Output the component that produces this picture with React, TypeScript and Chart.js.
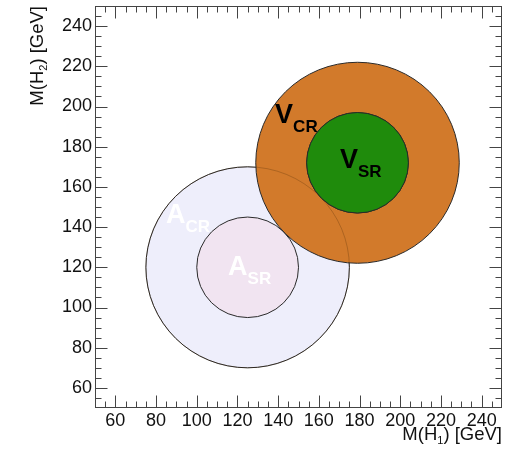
import React, { useEffect, useRef } from "react";
import { Chart, registerables } from "chart.js";

Chart.register(...registerables);

// ---- data ----
const REGION_NAMES = ["A_CR", "A_SR", "V_CR", "V_SR"];
const CENTER_X = [125, 125, 179, 179];
const CENTER_Y = [120, 120, 172, 172];
const RADIUS = [50, 25, 50, 25];
const LABEL_MAIN = ["A", "A", "V", "V"];
const LABEL_SUB = ["CR", "SR", "CR", "SR"];
const AXIS_MIN = 50;
const AXIS_MAX = 250;
const MAJOR_TICKS = [60, 80, 100, 120, 140, 160, 180, 200, 220, 240];
const MINOR_STEP = 5;

// ---- styles ----
const FILLS = ["#eeeefb", "#f1e4f1", "#d27a2b", "#1f8b0c"];
const TEXT_COLORS = ["#ffffff", "#ffffff", "#000000", "#000000"];
// label anchor (data coords) for each region label
const LABEL_POS_X = [84.9, 115.4, 138.5, 170.4];
const LABEL_POS_Y = [141.8, 116.0, 191.9, 169.6];
const FONT = "'Liberation Sans', Arial, Helvetica, sans-serif";

function drawParts(
  ctx: CanvasRenderingContext2D,
  parts: { t: string; font: string; dy: number }[],
  x: number,
  y: number
) {
  let cx = x;
  for (const p of parts) {
    ctx.font = p.font;
    ctx.fillText(p.t, cx, y + p.dy);
    cx += ctx.measureText(p.t).width;
  }
  return cx - x;
}

function measureParts(ctx: CanvasRenderingContext2D, parts: { t: string; font: string; dy: number }[]) {
  let w = 0;
  for (const p of parts) {
    ctx.font = p.font;
    w += ctx.measureText(p.t).width;
  }
  return w;
}

const regionPlugin = {
  id: "regions",
  beforeDatasetsDraw(chart: any) {
    const ctx: CanvasRenderingContext2D = chart.ctx;
    const xs = chart.scales.x;
    const ys = chart.scales.y;
    const ell = (i: number) => {
      const px = xs.getPixelForValue(CENTER_X[i]);
      const py = ys.getPixelForValue(CENTER_Y[i]);
      const rx = Math.abs(xs.getPixelForValue(CENTER_X[i] + RADIUS[i]) - px);
      const ry = Math.abs(ys.getPixelForValue(CENTER_Y[i] + RADIUS[i]) - py);
      ctx.beginPath();
      ctx.ellipse(px, py, rx, ry, 0, 0, Math.PI * 2);
    };
    ctx.save();
    ctx.lineWidth = 1;
    for (let i = 0; i < REGION_NAMES.length; i++) {
      ell(i);
      ctx.fillStyle = FILLS[i];
      ctx.fill();
      ctx.strokeStyle = "#2a2a2a";
      ctx.stroke();
    }
    // faint outline of A_CR visible through V_CR
    ell(0);
    ctx.strokeStyle = "rgba(60,30,0,0.25)";
    ctx.stroke();
    // redraw V_SR on top
    ell(3);
    ctx.fillStyle = FILLS[3];
    ctx.fill();
    ctx.strokeStyle = "#2a2a2a";
    ctx.stroke();

    // labels
    ctx.textBaseline = "alphabetic";
    ctx.textAlign = "left";
    for (let i = 0; i < REGION_NAMES.length; i++) {
      ctx.fillStyle = TEXT_COLORS[i];
      const x = xs.getPixelForValue(LABEL_POS_X[i]);
      const y = ys.getPixelForValue(LABEL_POS_Y[i]);
      drawParts(
        ctx,
        [
          { t: LABEL_MAIN[i], font: `bold 27px ${FONT}`, dy: 0 },
          { t: LABEL_SUB[i], font: `bold 17px ${FONT}`, dy: 9 },
        ],
        x,
        y
      );
    }
    ctx.restore();
  },
  afterDraw(chart: any) {
    const ctx: CanvasRenderingContext2D = chart.ctx;
    const a = chart.chartArea;
    const xs = chart.scales.x;
    const ys = chart.scales.y;
    ctx.save();
    ctx.strokeStyle = "#444";
    ctx.lineWidth = 1;
    const L = Math.round(a.left) + 0.5;
    const R = Math.round(a.right) - 0.5;
    const T = Math.round(a.top) + 0.5;
    const B = Math.round(a.bottom) - 0.5;
    ctx.strokeRect(L, T, R - L, B - T);
    ctx.beginPath();
    for (let v = AXIS_MIN + MINOR_STEP; v < AXIS_MAX; v += MINOR_STEP) {
      const len = MAJOR_TICKS.includes(v) ? 12 : 6;
      const px = Math.round(xs.getPixelForValue(v)) + 0.5;
      ctx.moveTo(px, B);
      ctx.lineTo(px, B - len);
      ctx.moveTo(px, T);
      ctx.lineTo(px, T + len);
      const py = Math.round(ys.getPixelForValue(v)) + 0.5;
      ctx.moveTo(L, py);
      ctx.lineTo(L + len, py);
      ctx.moveTo(R, py);
      ctx.lineTo(R - len, py);
    }
    ctx.stroke();

    // axis titles
    ctx.fillStyle = "#111";
    ctx.textBaseline = "alphabetic";
    ctx.textAlign = "left";
    const big = `18.5px ${FONT}`;
    const small = `11px ${FONT}`;
    const xParts = [
      { t: "M(H", font: big, dy: 0 },
      { t: "1", font: small, dy: 4 },
      { t: ") [GeV]", font: big, dy: 0 },
    ];
    const wX = measureParts(ctx, xParts);
    drawParts(ctx, xParts, a.right - wX, 440);

    const yParts = [
      { t: "M(H", font: big, dy: 0 },
      { t: "2", font: small, dy: 4 },
      { t: ") [GeV]", font: big, dy: 0 },
    ];
    const wY = measureParts(ctx, yParts);
    ctx.translate(43, a.top + wY);
    ctx.rotate(-Math.PI / 2);
    drawParts(ctx, yParts, 0, 0);
    ctx.restore();
  },
};

export default function App() {
  const ref = useRef<HTMLCanvasElement | null>(null);
  useEffect(() => {
    const canvas = ref.current;
    if (!canvas) return;
    const tickFont = { family: FONT, size: 18 };
    const chart = new Chart(canvas, {
      type: "scatter",
      data: {
        datasets: REGION_NAMES.map((n, i) => ({
          label: n,
          data: [{ x: CENTER_X[i], y: CENTER_Y[i] }],
          pointRadius: 0,
          pointHoverRadius: 0,
        })),
      },
      options: {
        animation: false,
        responsive: false,
        events: [],
        layout: { padding: { top: 6, right: 12, left: 0, bottom: 0 } },
        plugins: {
          legend: { display: false },
          tooltip: { enabled: false },
        },
        scales: {
          x: {
            type: "linear",
            min: AXIS_MIN,
            max: AXIS_MAX,
            afterBuildTicks: (s: any) => {
              s.ticks = MAJOR_TICKS.map((v) => ({ value: v }));
            },
            afterFit: (s: any) => {
              s.height = 41;
              s.paddingLeft = 0;
              s.paddingRight = 0;
            },
            ticks: { font: tickFont, color: "#111", padding: 2, maxRotation: 0, autoSkip: false },
            grid: { display: false, drawTicks: false },
            border: { display: false },
          },
          y: {
            type: "linear",
            min: AXIS_MIN,
            max: AXIS_MAX,
            afterBuildTicks: (s: any) => {
              s.ticks = MAJOR_TICKS.map((v) => ({ value: v }));
            },
            afterFit: (s: any) => {
              s.width = 95;
              s.paddingTop = 0;
              s.paddingBottom = 0;
            },
            ticks: { font: tickFont, color: "#111", padding: 3, autoSkip: false },
            grid: { display: false, drawTicks: false },
            border: { display: false },
          },
        },
      } as any,
      plugins: [regionPlugin],
    });
    return () => chart.destroy();
  }, []);
  return (
    <div style={{ position: "fixed", left: 0, top: 0, width: 514, height: 449, background: "#fff" }}>
      <canvas ref={ref} width={514} height={449} style={{ display: "block" }} />
    </div>
  );
}
